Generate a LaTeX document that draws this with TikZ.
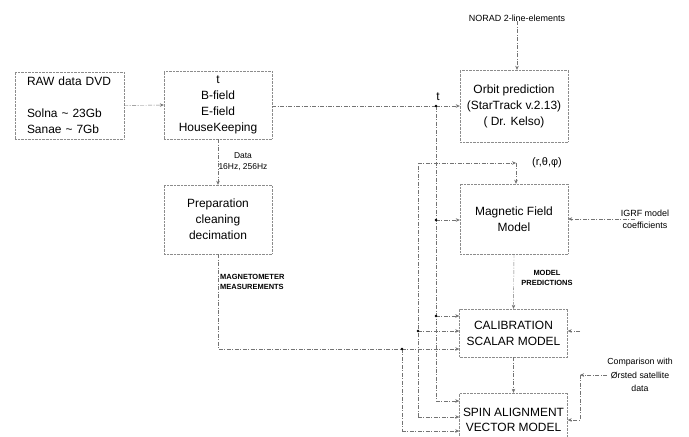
\documentclass[tikz,border=0pt]{standalone}
\usepackage{fontspec}
\setmainfont{Liberation Sans}
\usetikzlibrary{arrows.meta}

\begin{document}
\begin{tikzpicture}[x=1bp, y=-1bp,
    blok/.style={draw=black!45, densely dotted, minimum width=108bp, align=center, inner sep=0pt, font=\fontsize{12}{16}\selectfont},
    wire/.style={draw=black!55, dash pattern=on 4pt off 1.5pt on 1pt off 1.5pt, thin, -{Stealth[length=4pt,width=3.5pt]}},
    small/.style={font=\fontsize{9}{12}\selectfont, align=center, inner sep=0pt},
    tag/.style={font=\fontsize{7.5}{9.5}\selectfont\bfseries, inner sep=0pt}]
  \clip (0,0) rectangle (689,437);
  % boxes
  \node[blok, text width=85bp, inner xsep=12bp, align=left, minimum height=67bp] (raw) at (69.5,105.5)
    {RAW data DVD\\[16bp]Solna \textasciitilde{} 23Gb\\Sanae \textasciitilde{} 7Gb};
  \node[blok, minimum height=68bp] (tbox) at (218,105) {t\\B-field\\E-field\\HouseKeeping};
  \node[blok, minimum height=69bp] (prep) at (218,219.5) {Preparation\\cleaning\\decimation};
  \node[blok, minimum height=72bp] (orbit) at (514,106) {Orbit prediction\\(StarTrack v.2.13)\\( Dr. Kelso)};
  \node[blok, minimum height=70bp] (mag) at (514,219) {Magnetic Field\\Model};
  \node[blok, minimum height=48bp] (calib) at (513.5,333) {CALIBRATION\\SCALAR MODEL};
  \node[blok, minimum height=54bp, font=\fontsize{12}{15}\selectfont] (spin) at (513.5,420) {SPIN ALIGNMENT\\VECTOR MODEL};
  % labels
  \node[small] (norad) at (517,18) {NORAD 2-line-elements};
  \node[small, font=\fontsize{8.5}{11}\selectfont] (data) at (243,162) {Data\\16Hz, 256Hz};
  \node[tag, align=left, anchor=west] (meas) at (220,282) {MAGNETOMETER\\MEASUREMENTS};
  \node[tag, align=center] (preds) at (547,278) {MODEL\\PREDICTIONS};
  \node[small, font=\fontsize{11}{13}\selectfont] (rtp) at (547,163) {(r,θ,φ)};
  \node[small] (igrf) at (645,219) {IGRF model\\coefficients};
  \node[small, font=\fontsize{8.8}{13.5}\selectfont] (comp) at (640,375) {Comparison with\\Ørsted satellite\\data};
  \node[inner sep=0pt, font=\fontsize{12}{14}\selectfont] (tlab) at (438,97) {t};
  % junctions
  \coordinate (tj) at (436,106);
  \coordinate (tm) at (436,220);
  \coordinate (tc) at (436,316);
  \coordinate (tsp) at (436,401);
  \coordinate (pj) at (418,163);
  \coordinate (rj) at (516,163);
  \coordinate (pc) at (418,331);
  \coordinate (psp) at (418,417);
  \coordinate (mj) at (402,349);
  \coordinate (msp) at (402,431);
  \coordinate (cj) at (580,375);
  \coordinate (cc) at (580,331);
  % connectors
  \draw[wire] (raw.east) -- (tbox.west);
  \draw[wire, -] (tbox.east |- tj) -- (tj);
  \draw[wire] (tj) -- (tj -| orbit.west);
  \draw[wire, -] (tj) -- (tsp);
  \draw[wire] (tm) -- (tm -| mag.west);
  \draw[wire] (tc) -- (tc -| calib.west);
  \draw[wire] (tsp) -- (tsp -| spin.west);
  \draw[wire] (norad.south) -- (norad.south |- orbit.north);
  \draw[wire] (tbox.south) -- (prep.north);
  \draw[wire, -] (prep.south) |- (mj);
  \draw[wire] (mj) -- (mj -| calib.west);
  \draw[wire, -] (mj) -- (msp);
  \draw[wire] (msp) -- (msp -| spin.west);
  \draw[wire, -] (psp) -- (pj);
  \draw[wire] (pj) -- (rj);
  \draw[wire] (rj) -- (rj |- mag.north);
  \draw[wire] (pc) -- (pc -| calib.west);
  \draw[wire] (psp) -- (psp -| spin.west);
  \draw[wire, shorten <=-14bp] (igrf.west) -- (igrf.west -| mag.east);
  \draw[wire] (mag.south) -- (calib.north);
  \draw[wire] (calib.south) -- (spin.north);
  \draw[wire] (comp.west) -- (cj);
  \draw[wire] (cj) |- (spin.east);
  \draw[wire] (cc) -- (cc -| calib.east);
  \foreach \j in {tj,tm,tc,pc,mj}
    \fill (\j) circle (1.4pt);
\end{tikzpicture}
\end{document}
